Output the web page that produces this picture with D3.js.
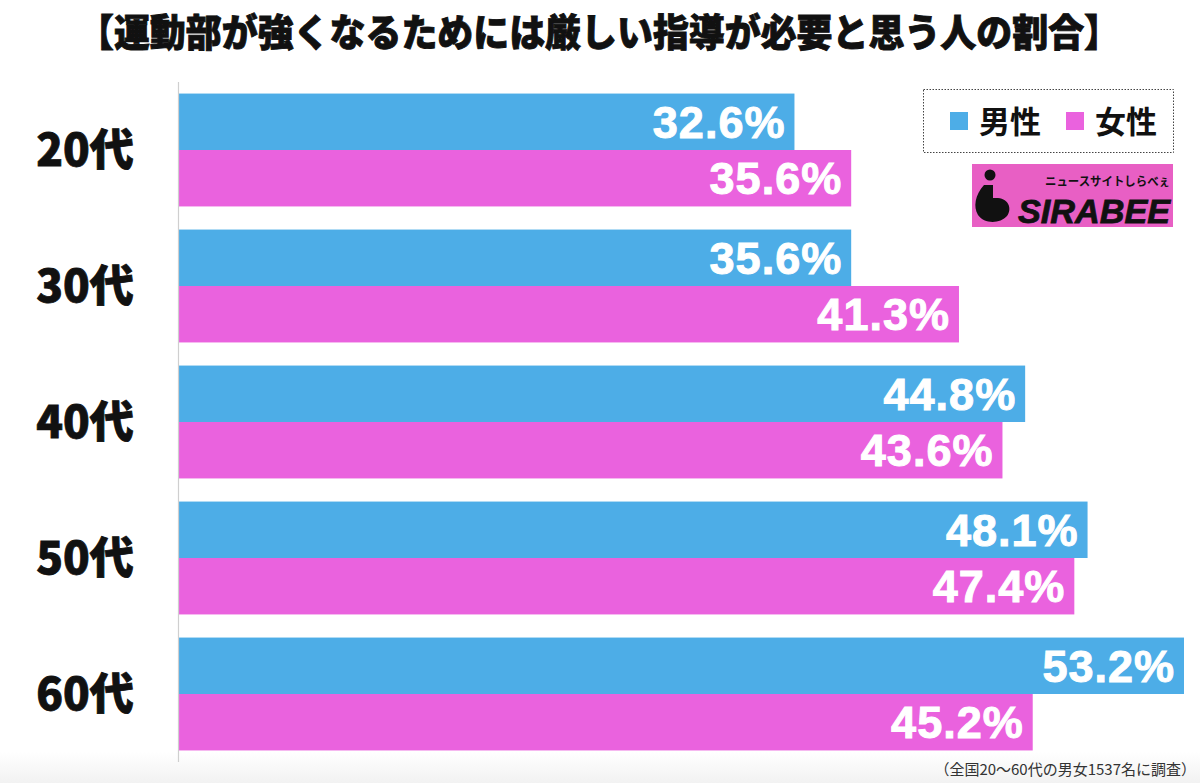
<!DOCTYPE html>
<html>
<head>
<meta charset="utf-8">
<script src="https://cdn.jsdelivr.net/npm/d3@7"></script>
<style>
  html, body { margin: 0; padding: 0; background: #ffffff; }
  svg { display: block; }
</style>
</head>
<body>
<svg id="chart" width="1200" height="783"></svg>
<script>
const title = "【運動部が強くなるためには厳しい指導が必要と思う人の割合】";
const categories = ["20代", "30代", "40代", "50代", "60代"];
const seriesNames = ["男性", "女性"];
const maleValues = [32.6, 35.6, 44.8, 48.1, 53.2];
const femaleValues = [35.6, 41.3, 43.6, 47.4, 45.2];
const footnote = "（全国20〜60代の男女1537名に調査）";
const colors = ["#4DADE7", "#EA62DE"];

const data = categories.map((c, i) => ({ cat: c, values: [maleValues[i], femaleValues[i]] }));

const svg = d3.select("#chart");

// subtle bottom gradient
const defs = svg.append("defs");
const grad = defs.append("linearGradient").attr("id", "bg").attr("x1", 0).attr("y1", 0).attr("x2", 0).attr("y2", 1);
grad.append("stop").attr("offset", "0%").attr("stop-color", "#ffffff");
grad.append("stop").attr("offset", "100%").attr("stop-color", "#f2f2f2");
svg.append("rect").attr("x", 0).attr("y", 752).attr("width", 1200).attr("height", 31).attr("fill", "url(#bg)");

// Title
svg.append("text")
  .attr("x", 78).attr("y", 46)
  .attr("textLength", 1042).attr("lengthAdjust", "spacingAndGlyphs")
  .attr("font-family", "'Noto Sans CJK JP', sans-serif")
  .attr("font-weight", 900)
  .attr("font-size", 38)
  .attr("fill", "#111")
  .attr("stroke", "#111").attr("stroke-width", 0.9)
  .text(title);

const x = d3.scaleLinear().domain([0, 53.2]).range([178, 1184]);
const yBand = d3.scaleBand().domain(categories).range([82, 762]).paddingInner(0.17).paddingOuter(0.085);
const y1 = d3.scaleBand().domain([0, 1]).range([0, yBand.bandwidth()]);

const groups = svg.append("g").selectAll("g")
  .data(data).join("g")
  .attr("transform", d => `translate(0,${yBand(d.cat)})`);

groups.selectAll("rect")
  .data(d => d.values.map((v, i) => ({ v, i })))
  .join("rect")
  .attr("x", x(0))
  .attr("y", d => y1(d.i))
  .attr("width", d => x(d.v) - x(0))
  .attr("height", y1.bandwidth())
  .attr("fill", d => colors[d.i]);

groups.selectAll("text.val")
  .data(d => d.values.map((v, i) => ({ v, i })))
  .join("text")
  .attr("class", "val")
  .attr("x", d => x(d.v) - 9)
  .attr("y", d => y1(d.i) + y1.bandwidth() / 2 + 16)
  .attr("text-anchor", "end")
  .attr("font-family", "'Liberation Sans', Arial, sans-serif")
  .attr("font-weight", "bold")
  .attr("font-size", 45)
  .attr("letter-spacing", 1)
  .attr("fill", "#ffffff")
  .attr("stroke", "#ffffff").attr("stroke-width", 1)
  .text(d => d.v.toFixed(1) + "%");

// Category labels
svg.append("g").selectAll("text")
  .data(categories).join("text")
  .attr("x", 85)
  .attr("y", d => yBand(d) + yBand.bandwidth() / 2 + 16)
  .attr("text-anchor", "middle")
  .attr("font-family", "'Noto Sans CJK JP', sans-serif")
  .attr("font-weight", 900)
  .attr("font-size", 44)
  .attr("fill", "#111")
  .attr("stroke", "#111").attr("stroke-width", 0.8)
  .text(d => d);

// Axis line
svg.append("line")
  .attr("x1", 178.5).attr("x2", 178.5)
  .attr("y1", 82).attr("y2", 762)
  .attr("stroke", "#cfcfcf").attr("stroke-width", 1.2);

// Legend
const legend = svg.append("g");
legend.append("rect")
  .attr("x", 923.5).attr("y", 89.5).attr("width", 250).attr("height", 63)
  .attr("fill", "#fff").attr("stroke", "#444").attr("stroke-width", 1)
  .attr("stroke-dasharray", "1.5,1.5");
const legX = [950, 1066];
seriesNames.forEach((s, i) => {
  legend.append("rect")
    .attr("x", legX[i]).attr("y", 112).attr("width", 18).attr("height", 18)
    .attr("fill", colors[i]);
  legend.append("text")
    .attr("x", legX[i] + 29).attr("y", 133)
    .attr("font-family", "'Noto Sans CJK JP', sans-serif")
    .attr("font-weight", 700)
    .attr("font-size", 31)
    .attr("fill", "#111")
    .text(s);
});

// Logo
const logo = svg.append("g");
logo.append("rect").attr("x", 972).attr("y", 164).attr("width", 201).attr("height", 63).attr("fill", "#E85FC4");
// "i" icon
logo.append("circle").attr("cx", 990).attr("cy", 175).attr("r", 5.5).attr("fill", "#111");
logo.append("path")
  .attr("d", "M984,185 C975,195 973,207 978,215 C984,224 1000,224 1007,216 C1012,209 1009,199 998,198 L993,198 L993,185 Z")
  .attr("fill", "#111");
logo.append("text")
  .attr("x", 1045).attr("y", 186)
  .attr("textLength", 125).attr("lengthAdjust", "spacingAndGlyphs")
  .attr("font-family", "'Noto Sans CJK JP', sans-serif")
  .attr("font-weight", 700)
  .attr("font-size", 12)
  .attr("fill", "#111")
  .text("ニュースサイトしらべぇ");
logo.append("text")
  .attr("x", 1018).attr("y", 223)
  .attr("textLength", 152).attr("lengthAdjust", "spacingAndGlyphs")
  .attr("font-family", "'Liberation Sans', Arial, sans-serif")
  .attr("font-weight", "bold")
  .attr("font-style", "italic")
  .attr("font-size", 33)
  .attr("fill", "#111")
  .attr("stroke", "#111").attr("stroke-width", 0.8)
  .text("SIRABEE");

// Footnote
svg.append("text")
  .attr("x", 1196).attr("y", 775)
  .attr("text-anchor", "end")
  .attr("font-family", "'Noto Sans CJK JP', sans-serif")
  .attr("font-size", 15)
  .attr("fill", "#333")
  .text(footnote);
</script>
</body>
</html>
